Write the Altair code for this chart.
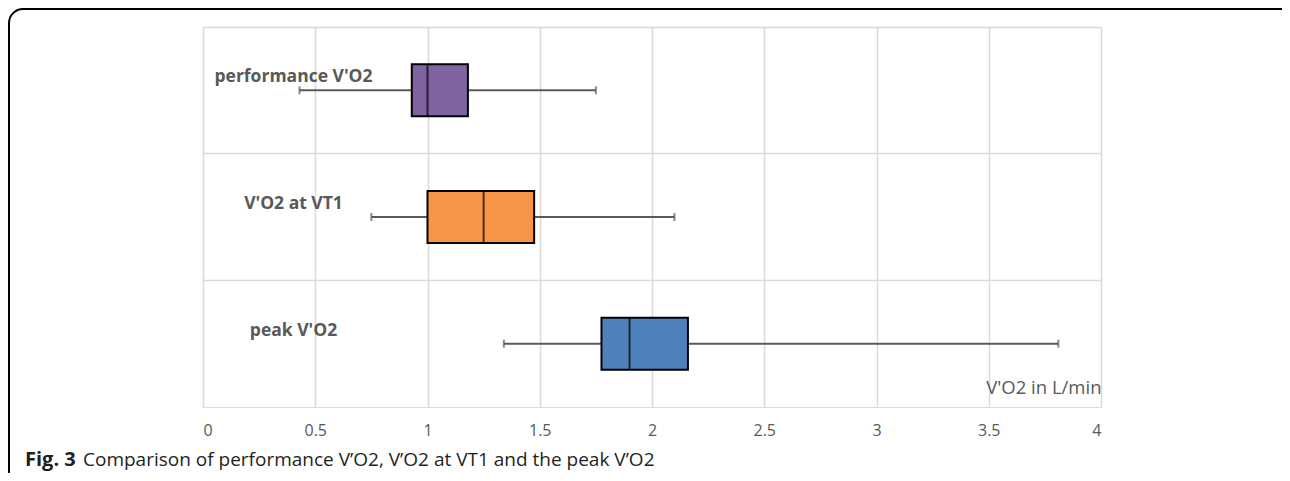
import altair as alt
import pandas as pd

categories = ["performance V'O2", "V'O2 at VT1", "peak V'O2"]
whisker_low = [0.43, 0.75, 1.34]
q1 = [0.93, 1.00, 1.775]
median = [1.00, 1.25, 1.90]
q3 = [1.18, 1.475, 2.16]
whisker_high = [1.75, 2.10, 3.81]
colors = ["#8064a2", "#f79646", "#4f81bd"]
x_ticks = [0, 0.5, 1, 1.5, 2, 2.5, 3, 3.5, 4]
x_title = "V'O2 in L/min"
caption_bold = "Fig. 3"
caption_rest = "Comparison of performance V\u2019O2, V\u2019O2 at VT1 and the peak V\u2019O2"

df = pd.DataFrame({
    "cat": categories, "lo": whisker_low, "q1": q1, "med": median,
    "q3": q3, "hi": whisker_high,
})

GRID = "#d9d9d9"
TXT = "#595959"

y_enc = alt.Y(
    "cat:N", sort=categories,
    scale=alt.Scale(paddingInner=0, paddingOuter=0),
    axis=alt.Axis(
        title=None, grid=True, bandPosition=0, gridColor=GRID, gridWidth=1.5,
        ticks=False, tickSize=0, domain=False,
        labelAlign="center", labelBaseline="middle", labelPadding=-90,
        labelOffset=-13, labelFont="Open Sans", labelFontSize=17.5,
        labelFontWeight="bold", labelColor=TXT, labelLimit=0,
    ),
)
y_plain = alt.Y("cat:N", sort=categories)

x_scale = alt.Scale(domain=[0, 4], nice=False, zero=True)
x_axis = alt.Axis(
    values=x_ticks, format="~g", grid=True, gridColor=GRID, gridWidth=1.5,
    ticks=False, domain=False, labelFont="Open Sans", labelFontSize=16,
    labelColor=TXT, labelPadding=15,
    title=x_title, titleX=898, titleY=-20, titleAlign="right",
    titleBaseline="middle", titleFont="Open Sans", titleFontSize=18.5,
    titleFontWeight="normal", titleColor=TXT,
)

base = alt.Chart(df)

whisker = base.mark_rule(color=TXT, strokeWidth=2).encode(
    x=alt.X("lo:Q", scale=x_scale, axis=x_axis), x2="hi:Q", y=y_enc
)
cap_lo = base.mark_tick(color=TXT, thickness=2, size=8).encode(x="lo:Q", y=y_plain)
cap_hi = base.mark_tick(color=TXT, thickness=2, size=8).encode(x="hi:Q", y=y_plain)
box = base.mark_bar(size=52, stroke="black", strokeWidth=2).encode(
    x="q1:Q", x2="q3:Q", y=y_plain,
    color=alt.Color("cat:N", scale=alt.Scale(domain=categories, range=colors), legend=None),
)
med = base.mark_tick(color="black", thickness=2, size=52).encode(x="med:Q", y=y_plain)

cap_df = pd.DataFrame({"b": [caption_bold], "r": [caption_rest]})
cap1 = alt.Chart(cap_df).mark_text(
    align="left", baseline="middle", font="Open Sans", fontSize=20,
    fontWeight="bold", color="#231f20"
).encode(text="b:N", x=alt.value(-178), y=alt.value(433))
cap2 = alt.Chart(cap_df).mark_text(
    align="left", baseline="middle", font="Open Sans", fontSize=19,
    color="#231f20"
).encode(text="r:N", x=alt.value(-120), y=alt.value(433))

frame = alt.Chart(cap_df).mark_rect(
    fill=None, stroke="black", strokeWidth=2, cornerRadius=14
).encode(x=alt.value(-194), x2=alt.value(1100), y=alt.value(-18), y2=alt.value(500))

chart = alt.layer(frame, whisker, cap_lo, cap_hi, box, med, cap1, cap2).properties(
    width=898, height=380,
    autosize=alt.AutoSizeParams(type="none"),
    padding={"left": 195, "top": 19, "right": 181, "bottom": 66},
).configure_view(stroke=GRID, strokeWidth=1.5).configure(background="white")

chart.save("out.html", embed_options={"renderer": "svg", "actions": False})
